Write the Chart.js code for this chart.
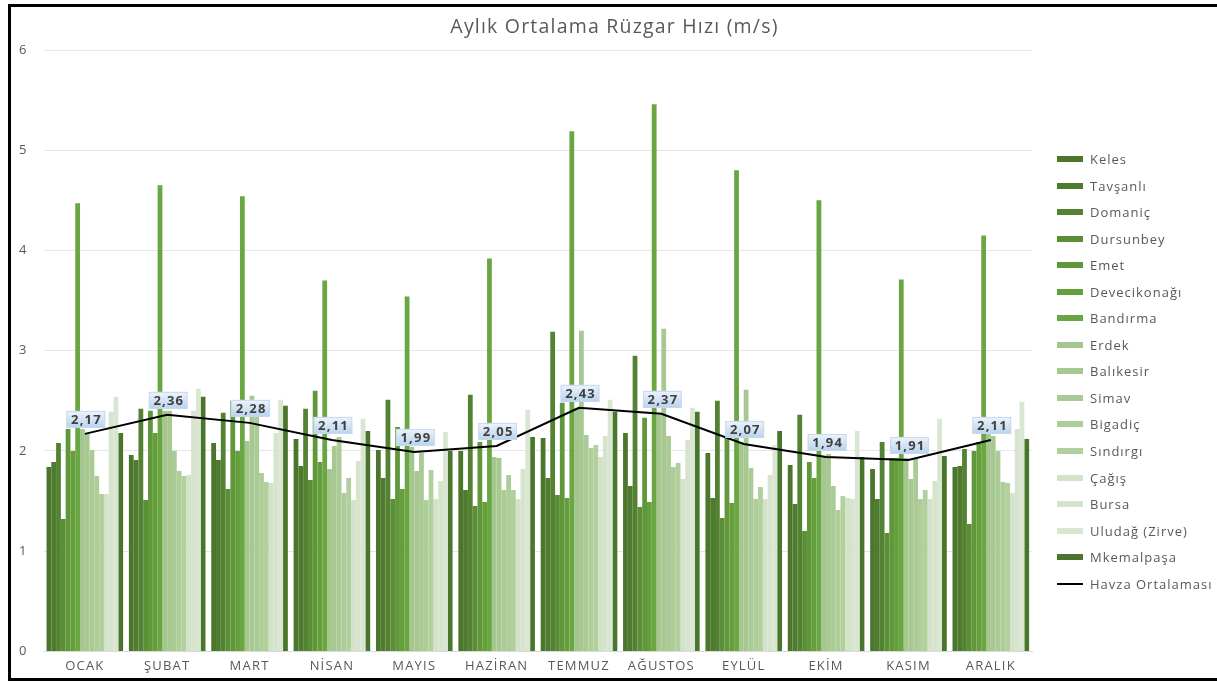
<!DOCTYPE html>
<html>
<head>
<meta charset="utf-8">
<script src="https://cdn.jsdelivr.net/npm/chart.js@4.4.1/dist/chart.umd.min.js"></script>
<style>
  html, body { margin: 0; padding: 0; background: #fff; }
  #wrap { position: relative; width: 1217px; height: 682px; overflow: hidden; }
  #frame {
    position: absolute; left: 8px; top: 4px; width: 1220px; height: 677px;
    box-sizing: border-box; border: 3px solid #000; pointer-events: none;
  }
  #legend {
    position: absolute; left: 1057px; top: 146px; margin: 0; padding: 0; list-style: none;
    font: 13px "Open Sans", "Noto Sans", sans-serif; letter-spacing: 1px; color: #595959;
  }
  #legend li { position: relative; height: 26.56px; line-height: 26px; padding-left: 33px; white-space: nowrap; }
  #legend .mark { position: absolute; left: 0; top: 10px; width: 26px; height: 6px; }
  #legend .mark.line { top: 12px; height: 2px; }
</style>
</head>
<body>
<div id="wrap">
  <canvas id="chart" width="1217" height="682"></canvas>
  <ul id="legend"></ul>
  <div id="frame"></div>
</div>
<script>
// ---------- Data ----------
const months = ["OCAK", "ŞUBAT", "MART", "NİSAN", "MAYIS", "HAZİRAN",
  "TEMMUZ", "AĞUSTOS", "EYLÜL", "EKİM", "KASIM", "ARALIK"];

const keles        = [1.84, 1.96, 2.08, 2.12, 2.01, 2.00, 2.13, 2.18, 1.98, 1.86, 1.82, 1.84];
const tavsanli     = [1.89, 1.91, 1.91, 1.85, 1.73, 1.61, 1.73, 1.65, 1.53, 1.47, 1.52, 1.85];
const domanic      = [2.08, 2.42, 2.38, 2.42, 2.51, 2.56, 3.19, 2.95, 2.50, 2.36, 2.09, 2.02];
const dursunbey    = [1.32, 1.51, 1.62, 1.71, 1.52, 1.45, 1.56, 1.44, 1.33, 1.20, 1.18, 1.27];
const emet         = [2.22, 2.40, 2.50, 2.60, 2.24, 2.09, 2.48, 2.33, 2.13, 1.89, 1.93, 2.00];
const devecikonagi = [2.00, 2.18, 2.00, 1.89, 1.62, 1.49, 1.53, 1.49, 1.48, 1.73, 1.93, 2.09];
const bandirma     = [4.47, 4.65, 4.54, 3.70, 3.54, 3.92, 5.19, 5.46, 4.80, 4.50, 3.71, 4.15];
const erdek        = [2.22, 2.40, 2.10, 1.82, 2.04, 1.94, 2.43, 2.36, 2.09, 1.94, 1.93, 2.23];
const balikesir    = [2.17, 2.40, 2.55, 2.05, 1.80, 1.93, 3.20, 3.22, 2.61, 1.97, 1.72, 2.15];
const simav        = [2.01, 2.00, 2.35, 2.14, 1.98, 1.61, 2.16, 2.15, 1.83, 1.65, 1.92, 2.00];
const bigadic      = [1.75, 1.80, 1.78, 1.58, 1.51, 1.76, 2.03, 1.84, 1.52, 1.41, 1.52, 1.69];
const sindirgi     = [1.57, 1.75, 1.69, 1.73, 1.81, 1.61, 2.06, 1.88, 1.64, 1.55, 1.61, 1.68];
const cagis        = [1.57, 1.76, 1.68, 1.51, 1.52, 1.52, 1.94, 1.72, 1.52, 1.53, 1.52, 1.58];
const bursa        = [2.39, 2.40, 2.18, 1.90, 1.70, 1.82, 2.15, 2.11, 1.76, 1.52, 1.70, 2.22];
const uludag       = [2.54, 2.62, 2.51, 2.32, 2.19, 2.41, 2.51, 2.43, 2.06, 2.20, 2.32, 2.49];
const mkemalpasa   = [2.18, 2.54, 2.45, 2.20, 2.00, 2.14, 2.39, 2.39, 2.20, 1.94, 1.95, 2.12];

const havzaOrtalamasi = [2.17, 2.36, 2.28, 2.11, 1.99, 2.05, 2.43, 2.37, 2.07, 1.94, 1.91, 2.11];

const stationNames = ["Keles", "Tavşanlı", "Domaniç", "Dursunbey", "Emet", "Devecikonağı",
  "Bandırma", "Erdek", "Balıkesir", "Simav", "Bigadiç", "Sındırgı", "Çağış", "Bursa",
  "Uludağ (Zirve)", "Mkemalpaşa"];
const stationValues = [keles, tavsanli, domanic, dursunbey, emet, devecikonagi, bandirma,
  erdek, balikesir, simav, bigadic, sindirgi, cagis, bursa, uludag, mkemalpasa];
const stationColors = ["#4b762c", "#4f7b2f", "#538232", "#5b8f36", "#60973a", "#659f3c",
  "#6aa642", "#a6c68f", "#a8c892", "#aacb95", "#aecd99", "#b2d09d", "#d4e2ca", "#d6e4cd",
  "#d9e6d1", "#4a752c"];

const yTicks = [0, 1, 2, 3, 4, 5, 6];
const chartTitle = "Aylık Ortalama Rüzgar Hızı (m/s)";

// ---------- Helpers ----------
const FONT = '"Open Sans", "Noto Sans", sans-serif';
const GREY = "#595959";
const SPACING = "1.2px";
const fmt = (v) => v.toFixed(2).replace(".", ",");

// ---------- Datasets ----------
const datasets = stationNames.map((name, i) => ({
  type: "bar",
  label: name,
  data: stationValues[i],
  backgroundColor: stationColors[i],
  borderWidth: 0,
  categoryPercentage: 0.93,
  barPercentage: 1.0,
  order: 2,
}));

datasets.push({
  type: "line",
  label: "Havza Ortalaması",
  data: havzaOrtalamasi,
  borderColor: "#000",
  backgroundColor: "#000",
  borderWidth: 2,
  pointRadius: 0,
  tension: 0,
  order: 0,
});
const lineIndex = datasets.length - 1;

// ---------- Legend (HTML, right column) ----------
function renderLegend() {
  const ul = document.getElementById("legend");
  datasets.forEach((ds) => {
    const li = document.createElement("li");
    const mark = document.createElement("span");
    mark.className = ds.type === "line" ? "mark line" : "mark";
    mark.style.background = ds.type === "line" ? ds.borderColor : ds.backgroundColor;
    li.appendChild(mark);
    li.appendChild(document.createTextNode(ds.label));
    ul.appendChild(li);
  });
}
renderLegend();

// wider letter spacing for all canvas text (set before measuring and drawing)
const letterSpacing = {
  id: "letterSpacing",
  beforeUpdate(chart) { chart.ctx.letterSpacing = SPACING; },
  beforeDraw(chart) { chart.ctx.letterSpacing = SPACING; },
};

// title centred on the whole canvas, not just the plot + axes box
const canvasTitle = {
  id: "canvasTitle",
  afterDraw(chart) {
    const ctx = chart.ctx;
    ctx.save();
    ctx.font = "19.5px " + FONT;
    ctx.fillStyle = GREY;
    ctx.textAlign = "center";
    ctx.textBaseline = "middle";
    ctx.fillText(chartTitle, chart.width / 2 + 6, 27);
    ctx.restore();
  },
};

// ---------- Value boxes on the average line ----------
const valueBoxes = {
  id: "valueBoxes",
  afterDatasetsDraw(chart) {
    const ctx = chart.ctx;
    const meta = chart.getDatasetMeta(lineIndex);
    ctx.save();
    ctx.font = "bold 13px " + FONT;
    ctx.textAlign = "center";
    ctx.textBaseline = "middle";
    meta.data.forEach((pt, i) => {
      const txt = fmt(havzaOrtalamasi[i]);
      const w = ctx.measureText(txt).width + 8;
      const h = 17;
      const x = pt.x - w / 2 + 1;
      const y = pt.y - h - 6;
      const g = ctx.createLinearGradient(0, y, 0, y + h);
      g.addColorStop(0, "#eef4fb");
      g.addColorStop(1, "#b9d2ee");
      ctx.fillStyle = g;
      ctx.fillRect(x, y, w, h);
      ctx.strokeStyle = "#c6d9ef";
      ctx.lineWidth = 1;
      ctx.strokeRect(x + 0.5, y + 0.5, w - 1, h - 1);
      ctx.fillStyle = "#404040";
      ctx.fillText(txt, x + w / 2 + 0.6, y + h / 2 + 1);
    });
    ctx.restore();
  },
};

// ---------- Chart ----------
new Chart(document.getElementById("chart"), {
  data: { labels: months, datasets },
  plugins: [letterSpacing, valueBoxes, canvasTitle],
  options: {
    responsive: false,
    animation: false,
    layout: { padding: { left: 3, right: 185, top: 50, bottom: 0 } },
    plugins: {
      title: { display: false },
      legend: { display: false },
      tooltip: { enabled: false },
    },
    scales: {
      x: {
        grid: { display: false, drawTicks: false },
        border: { color: "#d9d9d9" },
        ticks: { color: GREY, font: { family: FONT, size: 13 }, padding: 7.5 },
      },
      y: {
        min: yTicks[0],
        max: yTicks[yTicks.length - 1],
        afterBuildTicks: (axis) => { axis.ticks = yTicks.map((v) => ({ value: v })); },
        grid: { color: "#e6e6e6", drawTicks: false },
        border: { display: false },
        ticks: { color: GREY, font: { family: FONT, size: 13 }, padding: 16 },
      },
    },
  },
});
</script>
</body>
</html>
